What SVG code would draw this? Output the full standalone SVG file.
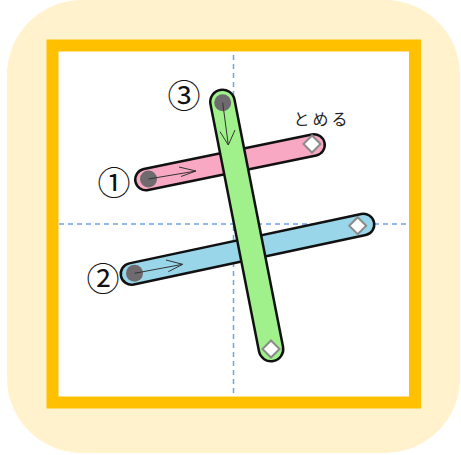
<svg xmlns="http://www.w3.org/2000/svg" width="461" height="455" viewBox="0 0 461 455">
<defs>
<style>
.dash{stroke:#6fa3e3;stroke-width:1.5;stroke-dasharray:5 4;fill:none}
.out{stroke:#111;stroke-linecap:round;fill:none}
.fill{stroke-linecap:round;fill:none}
.start{fill:#6e6a6e}
.end{fill:#fff;stroke:#8a8a8a;stroke-width:2}
.arr{stroke:#333;stroke-width:1;fill:none}
.num{font-family:"Noto Sans CJK JP","Noto Sans",sans-serif;font-size:33px;fill:#111;text-anchor:middle}
.lbl{font-family:"Noto Sans CJK JP",sans-serif;font-size:16px;fill:#222;text-anchor:middle;letter-spacing:3px}
</style>
</defs>
<rect x="7" y="0" width="453" height="453" rx="75" ry="75" fill="#fff2cc"/>
<rect x="52.5" y="45.5" width="362.5" height="357" fill="#fff" stroke="#ffc000" stroke-width="12"/>
<g id="guides">
<line class="dash" x1="233.5" y1="55" x2="233.5" y2="397"/>
<line class="dash" x1="59" y1="224" x2="409" y2="224"/>
</g>
<g id="stroke1">
<line class="out" x1="146" y1="179.5" x2="314" y2="145" stroke-width="24"/>
<line class="fill" x1="146" y1="179.5" x2="314" y2="145" stroke-width="19" stroke="#f8a8c2"/>
<circle class="start" cx="148.5" cy="179" r="8.5"/>
<path class="arr" d="M148.5 179 L196 171 M179 167 L196 171 L181 176.5"/>
<rect class="end" x="306" y="138" width="12" height="12" transform="rotate(45 312 144)"/>
</g>
<g id="stroke2">
<line class="out" x1="131.5" y1="273.9" x2="363.5" y2="224.5" stroke-width="24"/>
<line class="fill" x1="131.5" y1="273.9" x2="363.5" y2="224.5" stroke-width="19" stroke="#99d6e9"/>
<circle class="start" cx="134.5" cy="273.3" r="8.5"/>
<path class="arr" d="M134.5 273.3 L182.7 264.3 M166 260 L182.7 264.3 L168.3 271.7"/>
<rect class="end" x="351.7" y="219.7" width="12" height="12" transform="rotate(45 357.7 225.7)"/>
</g>
<g id="stroke3">
<line class="out" x1="222.5" y1="102" x2="271" y2="349" stroke-width="27"/>
<line class="fill" x1="222.5" y1="102" x2="271" y2="349" stroke-width="22" stroke="#a0f08c"/>
<circle class="start" cx="222.7" cy="102.7" r="8.5"/>
<path class="arr" d="M222.7 102.7 L228.3 145 M220 131.7 L228.3 145 L235 130"/>
<rect class="end" x="265" y="343" width="12" height="12" transform="rotate(45 271 349)"/>
</g>
<g id="labels">
<text class="num" x="114" y="195">①</text>
<text class="num" x="103" y="291">②</text>
<text class="num" x="184" y="108">③</text>
<text class="lbl" x="322" y="125">とめる</text>
</g>
</svg>
